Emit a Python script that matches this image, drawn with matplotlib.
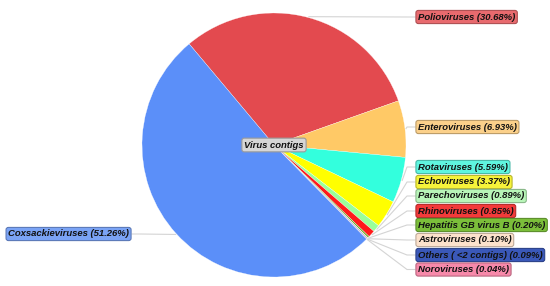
import numpy as np
import matplotlib
matplotlib.use("Agg")
import matplotlib.pyplot as plt
import matplotlib.colors as mcolors

# ---- data ----
categories = ["Polioviruses", "Enteroviruses", "Rotaviruses", "Echoviruses",
              "Parechoviruses", "Rhinoviruses", "Hepatitis GB virus B",
              "Astroviruses", "Others ( <2 contigs)", "Noroviruses",
              "Coxsackieviruses"]
values = [30.68, 6.93, 5.59, 3.37, 0.89, 0.85, 0.20, 0.10, 0.09, 0.04, 51.26]
center_title = "Virus contigs"

# ---- style / layout ----
colors = ["#e34a4f", "#ffc966", "#33ffdd", "#ffff00", "#99ff99", "#ff1a1a",
          "#66aa22", "#ffd9b8", "#1f3fa8", "#ff6f9a", "#5b8ff9"]
label_fc = ["#e86a6e", "#fbd08a", "#5ff5df", "#f6f33a", "#b8f5b8", "#f33a3a",
            "#7bbe3a", "#fde2cc", "#3a58b8", "#f789aa", "#7aa3f5"]
label_y_px = [17, 127, 167, 182, 196, 211, 225, 240, 255, 269.5, 234]
label_x_px = [415, 415, 415, 415, 415, 415, 415, 415, 415, 415, 132]

W, H = 550, 286
cx, cy, R = 274, 145, 132

fig = plt.figure(figsize=(5.5, 2.86), dpi=100)
ax = fig.add_axes([0, 0, 1, 1])

def py(y):
    return H - y

wedges, _ = ax.pie(values, colors=colors, startangle=130, counterclock=False,
                   center=(cx, py(cy)), radius=R,
                   wedgeprops=dict(edgecolor="white", linewidth=0.2),
                   frame=True)
ax.set_xlim(0, W)
ax.set_ylim(0, H)
ax.set_aspect("equal")
ax.axis("off")

font = dict(family=["Liberation Sans", "DejaVu Sans"], style="italic",
            weight="bold", size=6.8, color="#111111")

for w, name, v, fc, lx, ly in zip(wedges, categories, values, label_fc,
                                   label_x_px, label_y_px):
    ang = np.deg2rad((w.theta1 + w.theta2) / 2)
    ex = cx + (R + 1) * np.cos(ang)
    ey = cy - (R + 1) * np.sin(ang)
    right = lx > cx
    if right:
        xs = [ex, lx - 8, lx]
    else:
        xs = [ex, lx + 8, lx]
    ys = [ey, ly, ly]
    ax.plot(xs, [py(y) for y in ys], color="#d4d4d4", lw=0.8, zorder=0.5)
    edge = tuple(np.array(mcolors.to_rgb(fc)) * 0.75)
    ax.text(lx + (3 if right else -3), py(ly), f"{name} ({v:.2f}%)",
            ha="left" if right else "right", va="center",
            bbox=dict(boxstyle="round,pad=0.22,rounding_size=0.25",
                      fc=fc, ec=edge, lw=0.8), zorder=5, **font)

ax.text(cx, py(cy), center_title, ha="center", va="center",
        bbox=dict(boxstyle="round,pad=0.25,rounding_size=0.25",
                  fc="#d6d6d6", ec="#9a9a9a", lw=0.8), zorder=6, **font)

fig.savefig("out.png", dpi=100)
